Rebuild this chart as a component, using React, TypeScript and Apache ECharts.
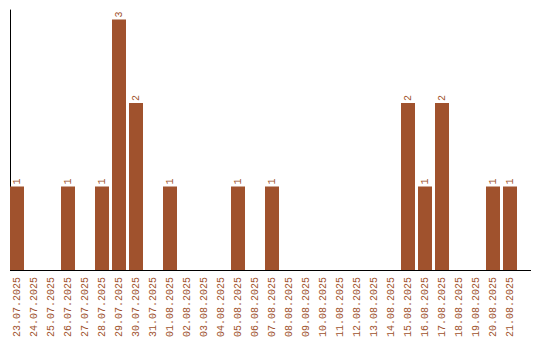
import React, { useEffect, useRef } from "react";
import * as echarts from "echarts";

const categories = [
  "23.07.2025", "24.07.2025", "25.07.2025", "26.07.2025", "27.07.2025",
  "28.07.2025", "29.07.2025", "30.07.2025", "31.07.2025", "01.08.2025",
  "02.08.2025", "03.08.2025", "04.08.2025", "05.08.2025", "06.08.2025",
  "07.08.2025", "08.08.2025", "09.08.2025", "10.08.2025", "11.08.2025",
  "12.08.2025", "13.08.2025", "14.08.2025", "15.08.2025", "16.08.2025",
  "17.08.2025", "18.08.2025", "19.08.2025", "20.08.2025", "21.08.2025",
];
const counts = [
  1, 0, 0, 1, 0, 1, 3, 2, 0, 1,
  0, 0, 0, 1, 0, 1, 0, 0, 0, 0,
  0, 0, 0, 2, 1, 2, 0, 0, 1, 1,
];

const COLOR = "#a0522d";
const FONT = "Liberation Mono";

export default function App() {
  const ref = useRef<HTMLDivElement>(null);
  useEffect(() => {
    const chart = echarts.init(ref.current!, null, { renderer: "svg" });
    chart.setOption({
      animation: false,
      grid: { left: 8.5, top: 10, width: 510, height: 260 },
      xAxis: {
        type: "category",
        data: categories,
        axisLine: { show: false },
        axisTick: { show: false },
        axisLabel: {
          rotate: 90,
          interval: 0,
          margin: 7,
          color: COLOR,
          fontFamily: FONT,
          fontSize: 10,
        },
      },
      yAxis: {
        type: "value",
        min: 0,
        max: 3.114,
        offset: -1.5,
        axisLine: { show: true, lineStyle: { color: "#000", width: 1 } },
        axisTick: { show: false },
        axisLabel: { show: false },
        splitLine: { show: false },
      },
      graphic: [
        {
          type: "line",
          shape: { x1: 10, y1: 270.5, x2: 531, y2: 270.5 },
          style: { stroke: "#000", lineWidth: 1 },
          z: 10,
        },
      ],
      series: [
        {
          type: "bar",
          data: counts.map((v) => (v === 0 ? null : v)),
          barWidth: 14,
          itemStyle: { color: COLOR },
          label: {
            show: true,
            position: "top",
            rotate: 90,
            align: "left",
            verticalAlign: "middle",
            distance: 2,
            color: COLOR,
            fontFamily: FONT,
            fontSize: 10,
          },
        },
      ],
    });
    return () => chart.dispose();
  }, []);
  return <div ref={ref} style={{ width: 540, height: 340, position: "absolute", left: 0, top: 0 }} />;
}
